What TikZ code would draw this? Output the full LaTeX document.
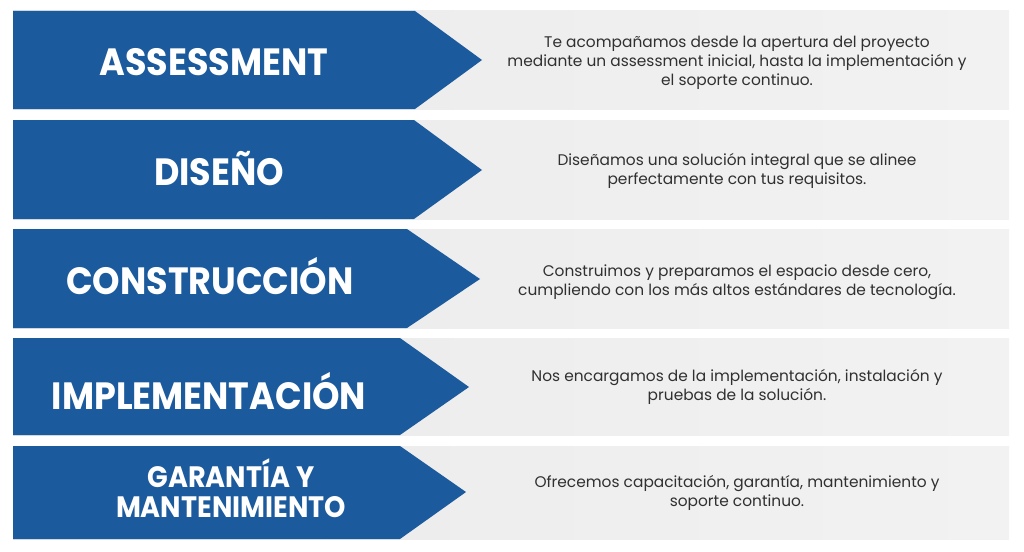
\documentclass[tikz,border=0pt]{standalone}
\usepackage{fontspec}
\setmainfont{Poppins}
\newfontfamily\titlefont[FakeStretch=0.92]{Poppins}
\definecolor{stepblue}{HTML}{1B5A9C}
\definecolor{panelgrey}{HTML}{EAEAEA}
\definecolor{panellight}{HTML}{F2F2F2}
\definecolor{desctext}{HTML}{303030}
\tikzset{
  panel/.style={left color=panelgrey, right color=panellight, draw=none},
  arrowshape/.style={fill=stepblue, draw=none},
  titletext/.style={text=white, font=\titlefont\fontsize{38}{37}\selectfont\bfseries, align=center, anchor=base},
  smalltitle/.style={text=white, font=\titlefont\fontsize{29.5}{30}\selectfont\bfseries, align=center, anchor=base},
  desctext/.style={text=desctext, font=\fontsize{15.4}{18.8}\selectfont, align=center, anchor=center}
}
\begin{document}
\begin{tikzpicture}[x=1pt,y=-1pt]
\useasboundingbox (0,0) rectangle (1024,551);
\fill[white] (0,0) rectangle (1024,551);
% row 1
\path[panel] (13,11) rectangle (1009,109);
\path[arrowshape] (13,11) -- (415,11) -- (482,60) -- (415,109) -- (13,109) -- cycle;
\node[titletext] (t1) at (214,75) {ASSESSMENT};
\node[desctext] (d1) at (737,63) {Te acompañamos desde la apertura del proyecto\\mediante un assessment inicial, hasta la implementación y\\el soporte continuo.};
% row 2
\path[panel] (13,120) rectangle (1009,219);
\path[arrowshape] (13,120) -- (414,120) -- (482,170) -- (414,219) -- (13,219) -- cycle;
\node[titletext] (t2) at (219,185) {DISEÑO};
\node[desctext] (d2) at (737,171) {Diseñamos una solución integral que se alinee\\perfectamente con tus requisitos.};
% row 3
\path[panel] (13,229) rectangle (1009,328);
\path[arrowshape] (13,229) -- (407,229) -- (480,279) -- (407,328) -- (13,328) -- cycle;
\node[titletext] (t3) at (210,294) {CONSTRUCCIÓN};
\node[desctext] (d3) at (737,282) {Construimos y preparamos el espacio desde cero,\\cumpliendo con los más altos estándares de tecnología.};
% row 4
\path[panel] (13,338) rectangle (1009,435);
\path[arrowshape] (13,338) -- (400,338) -- (469,387) -- (400,435) -- (13,435) -- cycle;
\node[titletext] (t4) at (209,409) {IMPLEMENTACIÓN};
\node[desctext] (d4) at (737,387) {Nos encargamos de la implementación, instalación y\\pruebas de la solución.};
% row 5
\path[panel] (13,446) rectangle (1009,539);
\path[arrowshape] (13,446) -- (400,446) -- (466,492) -- (400,539) -- (13,539) -- cycle;
\node[smalltitle] (t5) at (231,517) {GARANTÍA Y\\MANTENIMIENTO};
\node[desctext] (d5) at (737,493) {Ofrecemos capacitación, garantía, mantenimiento y\\soporte continuo.};
\end{tikzpicture}
\end{document}
